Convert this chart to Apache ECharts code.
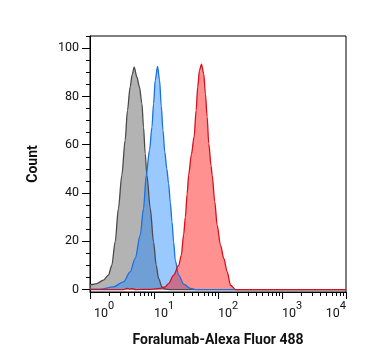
<!DOCTYPE html>
<html>
<head>
<meta charset="utf-8">
<script src="https://cdn.jsdelivr.net/npm/echarts@6/dist/echarts.min.js"></script>
<style>
html,body{margin:0;padding:0;background:#fff;}
#chart{width:367px;height:364px;}
</style>
</head>
<body>
<div id="chart"></div>
<script>
// Gray (unstained / isotype) histogram
const grayX = [1.0, 1.06, 1.27, 1.62, 1.94, 2.19, 2.47, 2.78, 3.14, 3.54, 3.85, 4.24, 4.56, 4.90, 5.40, 5.93, 6.47, 6.86, 7.29, 7.75, 8.74, 9.84, 10.84, 11.78, 13.33, 15.0, 18.0, 10000];
const grayY = [2.0, 2.1, 2.5, 3.9, 6.0, 10.0, 19.7, 33.6, 47.3, 61.8, 74.2, 83.9, 89.0, 92.1, 88.0, 83.9, 77.0, 67.3, 56.3, 47.3, 33.6, 19.7, 10.0, 4.6, 1.1, 0.2, 0, 0];
// Blue histogram
const blueX = [1.0, 1.44, 2.32, 3.33, 4.24, 5.08, 6.09, 6.86, 7.56, 8.51, 9.29, 9.84, 10.46, 11.37, 12.22, 12.99, 13.81, 14.74, 15.85, 16.9, 18.0, 19.13, 20.27, 21.54, 24.27, 29.08, 37.0, 44.4, 10000];
const blueY = [0.2, 0.2, 1.1, 3.2, 7.3, 12.9, 22.5, 33.6, 47.3, 57.7, 67.3, 77.0, 86.7, 92.4, 86.7, 76.0, 66.0, 57.0, 50.0, 44.0, 36.0, 28.0, 19.7, 12.0, 6.0, 2.3, 0.5, 0, 0];
// Red histogram (Foralumab-Alexa Fluor 488)
const redX = [1.0, 3.3, 3.81, 4.2, 4.56, 5.2, 9.0, 12.5, 15.0, 16.9, 20.3, 24.3, 26.7, 29.1, 30.9, 32.9, 34.8, 38.4, 42.3, 45.5, 48.2, 51.3, 55.1, 59.8, 63.6, 67.7, 71.7, 78.2, 81.1, 89.1, 97.1, 109.4, 123.3, 139.4, 157.0, 188.2, 10000];
const redY = [0, 0, 0.5, 0.2, 0.4, 0, 0.1, 0.5, 1.1, 2.5, 6.0, 10.0, 14.2, 23.0, 30.0, 39.5, 47.5, 56.0, 63.2, 74.2, 83.9, 90.8, 93.3, 89.4, 81.0, 71.5, 60.4, 51.0, 47.3, 36.3, 26.6, 18.4, 12.9, 7.3, 1.8, 0, 0];

// Axis ticks
const yMajorTicks = [0, 20, 40, 60, 80, 100];
const yMinorTicks = [5, 10, 15, 25, 30, 35, 45, 50, 55, 65, 70, 75, 85, 90, 95, 105];
const xDecades = [1, 10, 100, 1000];
const xMinorMultipliers = [2, 3, 4, 5, 6, 7, 8, 9];

const xMinorTickPos = [];
xDecades.forEach(d => xMinorMultipliers.forEach(m => xMinorTickPos.push(Math.log10(m * d))));

function pairs(xs, ys) { return xs.map((x, i) => [x, ys[i]]); }

const FONT = 'Roboto';
const chart = echarts.init(document.getElementById('chart'), null, {renderer: 'canvas'});

function histSeries(name, xs, ys, lineColor, fillColor) {
  return {
    name: name,
    type: 'line',
    xAxisIndex: 0,
    yAxisIndex: 0,
    data: pairs(xs, ys),
    showSymbol: false,
    smooth: 0.3,
    smoothMonotone: 'x',
    lineStyle: {color: lineColor, width: 1.3},
    areaStyle: {color: fillColor, origin: 'auto', opacity: 1},
    animation: false
  };
}

chart.setOption({
  animation: false,
  backgroundColor: '#fff',
  grid: {left: 90, right: 21, top: 36, bottom: 72, show: true, borderColor: '#000', borderWidth: 1, backgroundColor: 'transparent'},
  xAxis: [
    {
      type: 'log', logBase: 10, min: 1, max: 10000, position: 'bottom',
      axisLine: {show: true, onZero: false, lineStyle: {color: '#000', width: 1}},
      axisTick: {show: true, length: 7, lineStyle: {color: '#000', width: 1}},
      splitLine: {show: false},
      axisLabel: {
        margin: 9, align: 'left', alignMaxLabel: 'right',
        formatter: function (v) {
          const e = Math.round(Math.log10(v));
          return (e === 0 ? '{b0|10}' : '{b|10}') + '{s|' + e + '}';
        },
        rich: {
          b: {fontFamily: FONT, fontSize: 12.5, color: '#111', lineHeight: 26},
          b0: {fontFamily: FONT, fontSize: 12.5, color: '#111', lineHeight: 26, padding: [0, 0, 0, 4]},
          s: {fontFamily: FONT, fontSize: 11, color: '#111', lineHeight: 10, verticalAlign: 'top'}
        }
      },
      name: 'Foralumab-Alexa Fluor 488', nameLocation: 'middle', nameGap: 41,
      nameTextStyle: {fontFamily: FONT, fontSize: 14, fontWeight: 'bold', color: '#111'}
    },
    {
      type: 'value', min: 0, max: 4, position: 'bottom',
      axisLine: {show: false, onZero: false},
      axisTick: {show: true, length: 4, customValues: xMinorTickPos, lineStyle: {color: '#000', width: 1}},
      axisLabel: {show: false},
      splitLine: {show: false}
    }
  ],
  yAxis: [
    {
      type: 'value', min: -1, max: 105, position: 'left',
      axisLine: {show: true, onZero: false, lineStyle: {color: '#000', width: 1}},
      axisTick: {show: true, length: 8, customValues: yMajorTicks, lineStyle: {color: '#000', width: 1}},
      axisLabel: {customValues: yMajorTicks, fontFamily: FONT, fontSize: 12.5, color: '#111', margin: 11},
      splitLine: {show: false},
      name: 'Count', nameLocation: 'middle', nameGap: 50,
      nameTextStyle: {fontFamily: FONT, fontSize: 14, fontWeight: 'bold', color: '#111'}
    },
    {
      type: 'value', min: -1, max: 105, position: 'left',
      axisLine: {show: false, onZero: false},
      axisTick: {show: true, length: 4, customValues: yMinorTicks, lineStyle: {color: '#000', width: 1}},
      axisLabel: {show: false},
      splitLine: {show: false}
    }
  ],
  series: [
    histSeries('gray', grayX, grayY, '#4a4a4a', 'rgba(128,128,128,0.6)'),
    histSeries('blue', blueX, blueY, '#1a70dc', 'rgba(30,136,255,0.45)'),
    histSeries('red', redX, redY, '#d5101a', 'rgba(255,0,0,0.43)')
  ]
});
</script>
</body>
</html>
